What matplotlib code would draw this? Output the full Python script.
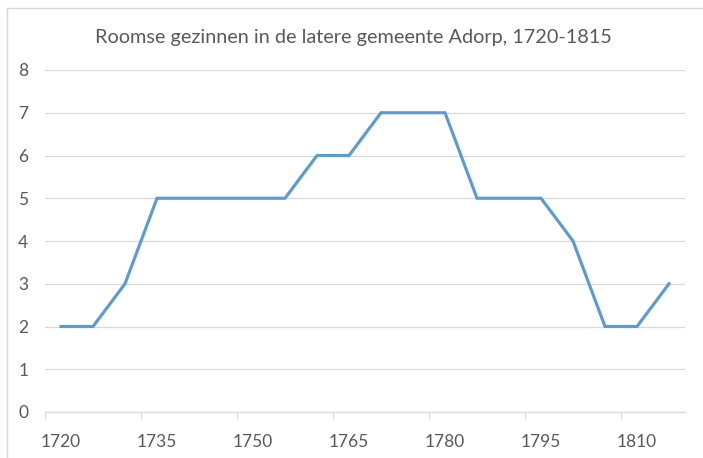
import matplotlib
matplotlib.use("Agg")
import matplotlib.pyplot as plt
from matplotlib.lines import Line2D

years = [1720, 1725, 1730, 1735, 1740, 1745, 1750, 1755, 1760, 1765,
         1770, 1775, 1780, 1785, 1790, 1795, 1800, 1805, 1810, 1815]
families = [2, 2, 3, 5, 5, 5, 5, 5, 6, 6, 7, 7, 7, 5, 5, 5, 4, 2, 2, 3]
title = "Roomse gezinnen in de latere gemeente Adorp, 1720-1815"
y_ticks = [0, 1, 2, 3, 4, 5, 6, 7, 8]

plt.rcParams['font.family'] = ['Lato', 'DejaVu Sans']

W, H = 703, 458
fig = plt.figure(figsize=(W / 100, H / 100), dpi=100)
fig.patch.set_facecolor('white')
# chart border (only top and left visible in the reference)
fig.lines.append(Line2D([7 / W, 7 / W], [0, 1 - 8 / H], transform=fig.transFigure,
                        color='#d9d9d9', linewidth=1))
fig.lines.append(Line2D([7 / W, 1], [1 - 8 / H, 1 - 8 / H], transform=fig.transFigure,
                        color='#d9d9d9', linewidth=1))

ax = fig.add_axes([45 / W, 46 / H, 640 / W, 342 / H])
idx = list(range(len(years)))
ax.plot(idx, families, color='#5B9BD5', linewidth=2.25, solid_joinstyle='miter')

ax.set_xlim(-0.5, len(years) - 0.5)
ax.set_ylim(0, 8)
ax.set_yticks(y_ticks)
ax.set_yticklabels([str(v) for v in y_ticks], color='#595959', fontsize=12.5)
ax.yaxis.grid(True, color='#d9d9d9', linewidth=0.9)
ax.set_axisbelow(True)
ax.tick_params(axis='y', length=0, pad=12)

label_idx = list(range(0, len(years), 3))
ax.set_xticks(label_idx)
ax.set_xticklabels([str(years[i]) for i in label_idx], color='#595959', fontsize=12.5)
ax.tick_params(axis='x', length=0, pad=16)
ax.set_xticks([i - 0.5 for i in label_idx], minor=True)
ax.tick_params(axis='x', which='minor', length=5, color='#d9d9d9', width=0.9)

for s in ['top', 'right', 'left']:
    ax.spines[s].set_visible(False)
ax.spines['bottom'].set_color('#d9d9d9')
ax.spines['bottom'].set_linewidth(0.9)

fig.text(353 / W, 1 - 37 / H, title, ha='center', va='center',
         fontsize=14.3, color='#595959')

fig.savefig('out.png', dpi=100)
